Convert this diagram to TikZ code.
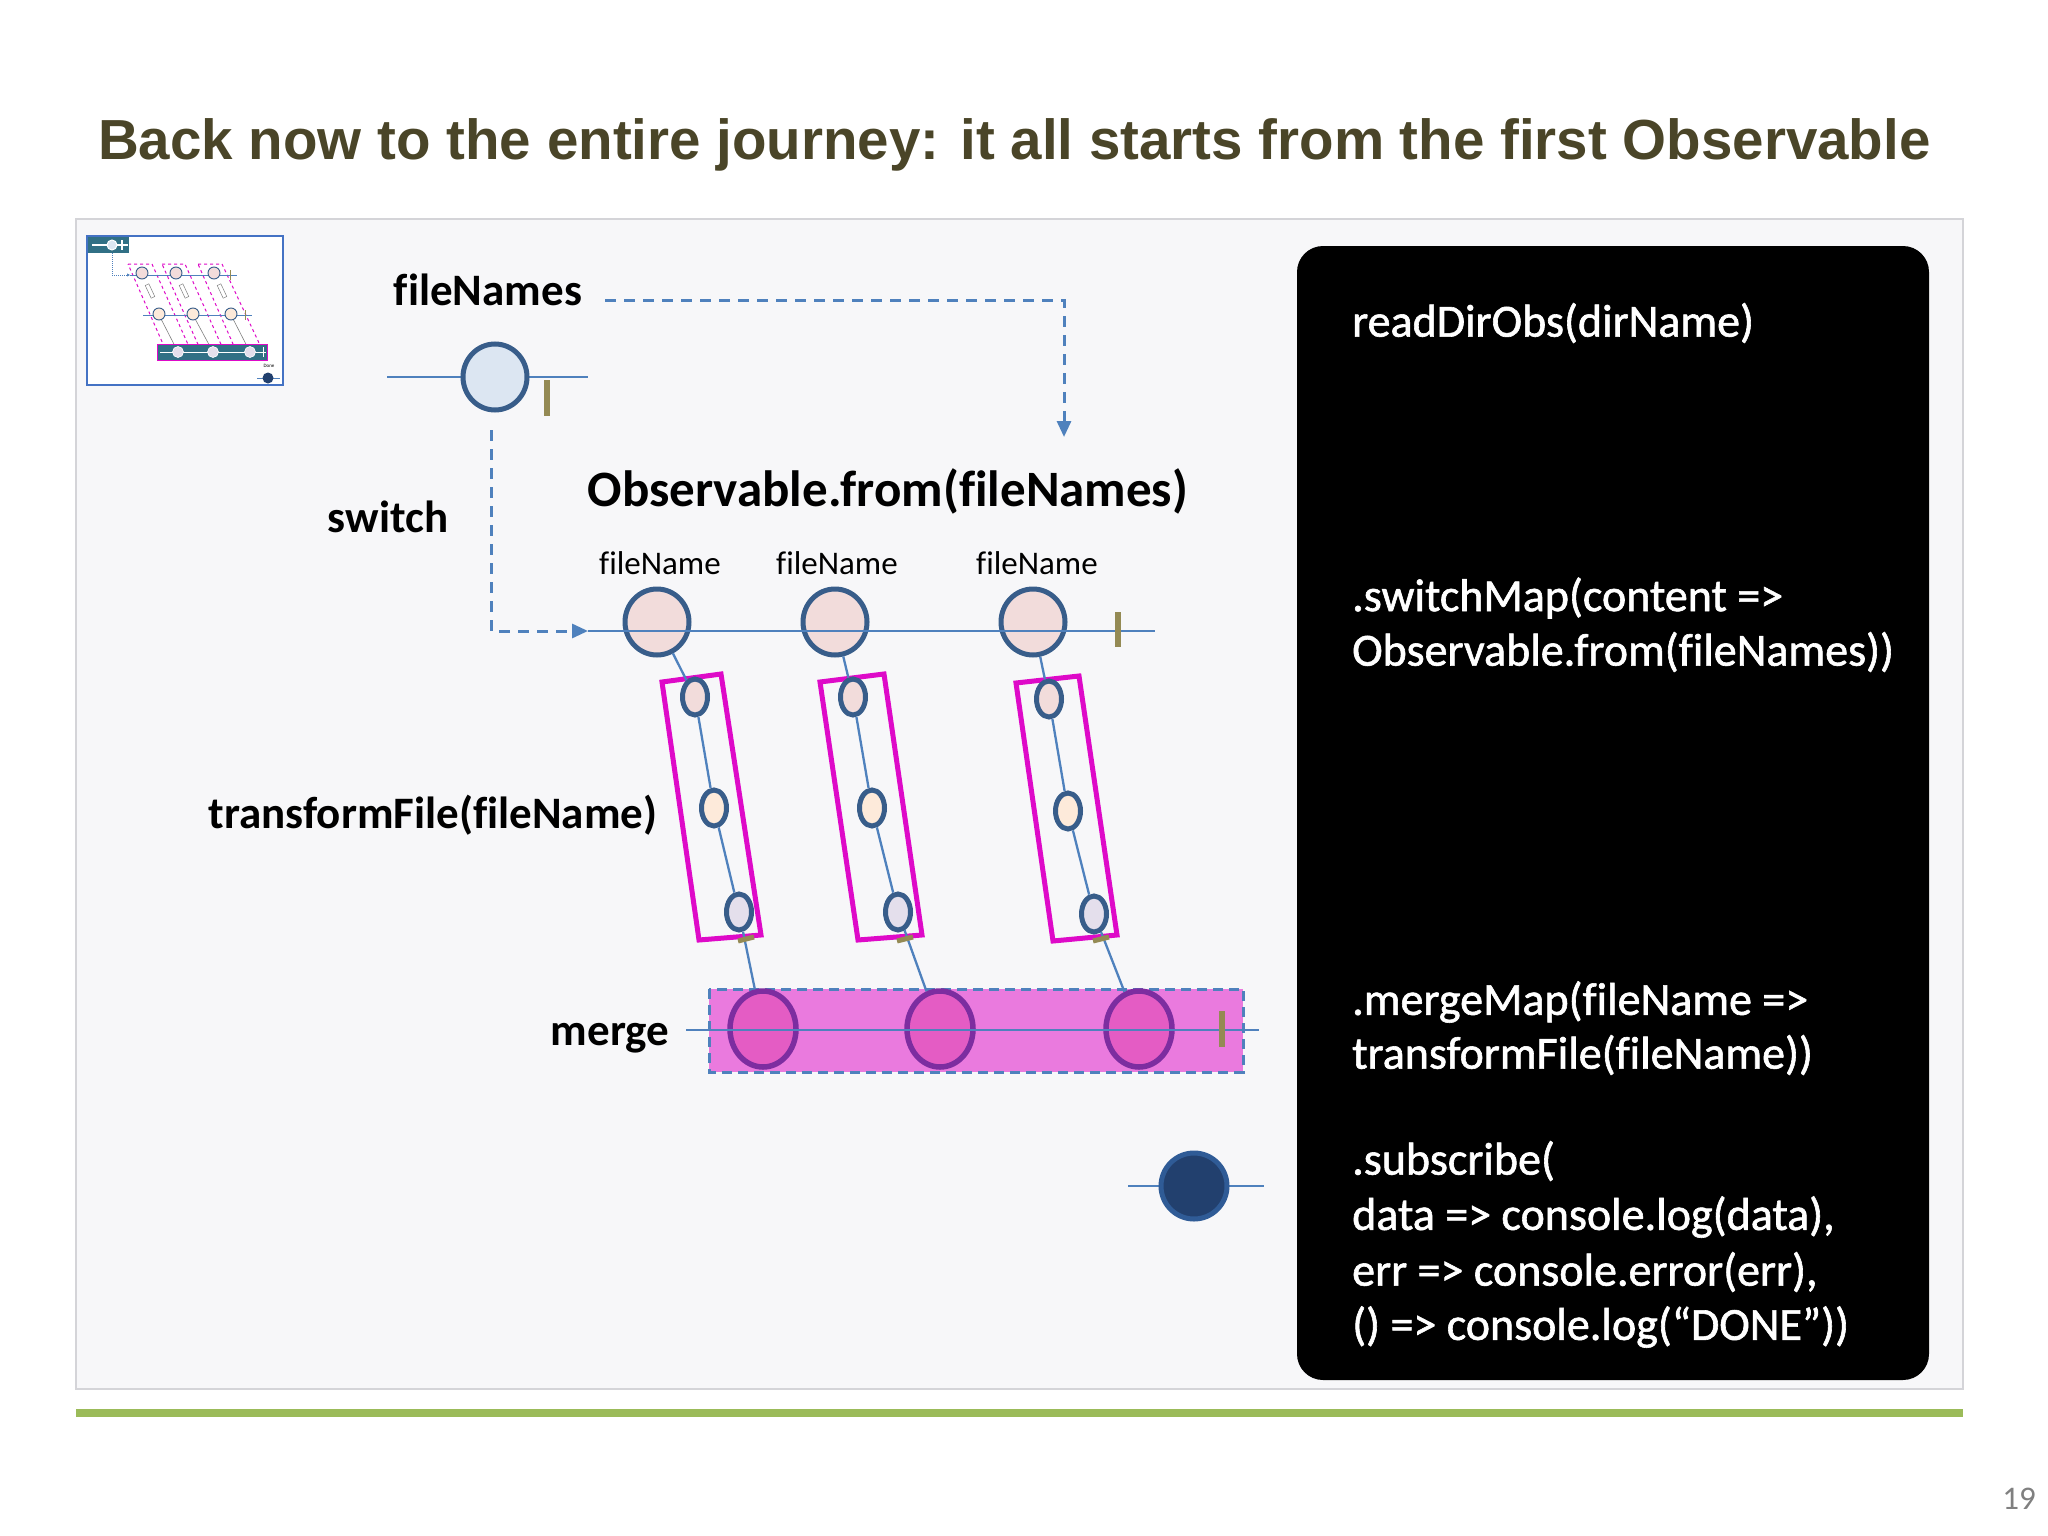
\documentclass[tikz,border=0pt]{standalone}
\usepackage{fontspec}
\setmainfont[Ligatures=NoCommon]{Carlito}
\newfontfamily\codefont[Ligatures=NoCommon,FakeBold=1.3]{Carlito}
\newfontfamily\titlefont{Liberation Sans}
\usetikzlibrary{shapes.geometric,arrows.meta}
\definecolor{titlecol}{RGB}{74,69,40}
\definecolor{panelbg}{RGB}{247,247,249}
\definecolor{panelborder}{RGB}{212,212,216}
\definecolor{greenbar}{RGB}{155,187,89}
\definecolor{blueline}{RGB}{79,129,189}
\definecolor{cborder}{RGB}{56,93,138}
\definecolor{pinkfill}{RGB}{242,220,219}
\definecolor{bluefill}{RGB}{220,230,242}
\definecolor{orangefill}{RGB}{253,234,218}
\definecolor{lavfill}{RGB}{228,223,236}
\definecolor{olive}{RGB}{148,138,84}
\definecolor{magenta2}{RGB}{222,10,200}
\definecolor{mergefill}{RGB}{234,122,222}
\definecolor{mcfill}{RGB}{228,92,196}
\definecolor{mcborder}{RGB}{125,45,160}
\definecolor{donefill}{RGB}{34,64,110}
\definecolor{doneborder}{RGB}{47,91,150}
\definecolor{teal2}{RGB}{49,112,133}
\definecolor{thumbblue}{RGB}{68,114,196}
\definecolor{pagegray}{RGB}{128,128,128}
\tikzset{
  lbl/.style={font=\bfseries\fontsize{45}{54}\selectfont, inner sep=0pt},
  small/.style={font=\fontsize{33}{40}\selectfont, inner sep=0pt},
  code/.style={font=\codefont\fontsize{46}{55}\selectfont, text=white, inner sep=0pt, anchor=west},
  timeline/.style={draw=blueline, line width=2pt},
  dashlink/.style={draw=blueline, line width=3pt, dash pattern=on 11pt off 8pt, -{Triangle[length=16pt,width=14pt]}},
  bigc/.style={ellipse, draw=cborder, line width=5pt, minimum width=64pt, minimum height=66pt, inner sep=0pt},
  smallc/.style={ellipse, draw=cborder, line width=5pt, minimum width=25pt, minimum height=36pt, inner sep=0pt},
  mergec/.style={ellipse, draw=mcborder, fill=mcfill, line width=5.5pt, minimum width=66pt, minimum height=76pt, inner sep=0pt},
  endtick/.style={draw=olive, line width=6pt},
  slanttick/.style={draw=olive, line width=5pt},
  tbox/.style={draw=magenta2, line width=5pt, line join=miter},
  thin/.style={draw=blueline, line width=2.3pt},
}
\begin{document}
\begin{tikzpicture}[x=1pt,y=-1pt]
\useasboundingbox (0,0) rectangle (2048,1536);
\fill[white] (0,0) rectangle (2048,1536);
% panel
\filldraw[fill=panelbg, draw=panelborder, line width=2pt] (76,219) rectangle (1963,1389);
\fill[greenbar] (76,1409) rectangle (1963,1417);
% title
\node[anchor=west, inner sep=0pt, text=titlecol, font=\titlefont\bfseries\fontsize{56.5}{66}\selectfont] (title) at (98,145) {Back now to the entire journey: it all starts from the first Observable};
\node[inner sep=0pt, text=pagegray, font=\fontsize{33}{40}\selectfont] (pnum) at (2019,1499) {19};

% code box
\fill[black, rounded corners=26pt] (1297,246) rectangle (1929,1380);
\node[code] (c1) at (1352,323) {readDirObs(dirName)};
\node[code] (c2) at (1352,598) {.switchMap(content =>};
\node[code] (c3) at (1352,652) {Observable.from(fileNames))};
\node[code] (c4) at (1352,1002) {.mergeMap(fileName =>};
\node[code] (c5) at (1352,1055) {transformFile(fileName))};
\node[code] (c6) at (1352,1161) {.subscribe(};
\node[code] (c7) at (1352,1217) {data => console.log(data),};
\node[code] (c8) at (1352,1272) {err => console.error(err),};
\node[code] (c9) at (1352,1327) {() => console.log(“DONE”))};

% thumbnail
\filldraw[fill=white, draw=thumbblue, line width=2pt] (87,236) rectangle (283,385);
\fill[teal2] (88,237) rectangle (129,253);
\draw[white, line width=1.2pt] (92,245) -- (128,245);
\draw[white, line width=1.2pt] (122,240) -- (122,250);
\filldraw[fill=bluefill, draw=white, line width=1pt] (112,245) circle (5);
\draw[blueline, line width=1pt, densely dotted, -{Triangle[length=3pt,width=3pt]}] (112,253) -- (112,275) -- (130,275);
\foreach \a/\b/\c/\d in {128/152/170/195, 162/185/205/228, 198/222/240/267}{
  \draw[magenta2, line width=1pt, dashed] (\a,264) -- (\b,264) -- (\d,360) -- (\c,360) -- cycle;
}
\draw[blueline, line width=0.8pt] (130,275) -- (237,275);
\draw[olive, line width=1pt] (230,270) -- (230,280);
\draw[blueline, line width=0.8pt] (143,315) -- (252,315);
\draw[olive, line width=1pt] (245,310) -- (245,320);
\foreach \x/\y in {159/178, 193/213, 231/250}{
  \draw[gray, line width=0.6pt] (\x,315) -- (\y,352);
}
\foreach \x in {142,176,214}{
  \filldraw[fill=pinkfill, draw=cborder, line width=0.9pt] (\x,273) circle (6);
  \filldraw[fill=white, draw=gray, line width=0.5pt, rotate around={-65:(\x+8,291)}] (\x+1,289) rectangle (\x+15,293);
}
\foreach \x in {159,193,231}{
  \filldraw[fill=orangefill, draw=cborder, line width=0.9pt] (\x,314) circle (6);
}
\filldraw[fill=teal2, draw=magenta2, line width=0.6pt] (157,344) rectangle (267,360);
\draw[white, line width=1pt] (160,352) -- (266,352);
\draw[white, line width=1pt] (263,347) -- (263,357);
\foreach \x in {178,213,250}{
  \filldraw[fill=lavfill, draw=white, line width=0.6pt] (\x,352) circle (5.5);
}
\node[inner sep=0pt, font=\fontsize{5}{6}\selectfont] (donelbl) at (269,366) {Done};
\draw[blueline, line width=0.8pt] (257,378) -- (280,378);
\fill[donefill] (268,378) circle (5.5);

% labels
\node[lbl] (lfn) at (488,290) {fileNames};
\node[lbl] (lsw) at (388,517) {switch};
\node[lbl, font=\bfseries\fontsize{51}{61}\selectfont] (lobs) at (888,491) {Observable.from(fileNames)};
\node[small] (n1) at (660,563) {fileName};
\node[small] (n2) at (837,563) {fileName};
\node[small] (n3) at (1037,563) {fileName};
\node[lbl] (ltr) at (433,815) {transformFile(fileName)};
\node[lbl] (lmg) at (610,1038) {merge};

% fileNames timeline
\coordinate (fa) at (387,377);
\coordinate (fb) at (588,377);
\draw[timeline] (fa) -- (fb);
\node[bigc, fill=bluefill] (f0) at (495,377) {};
\draw[endtick] (547,380) -- (547,416);

% dashed links
\coordinate (d1) at (605,300);
\coordinate (d2) at (1064,300);
\coordinate (d3) at (1064,437);
\draw[dashlink] (d1) -- (d2) -- (d3);
\coordinate (s1) at (491,430);
\coordinate (s2) at (491,631);
\coordinate (oa) at (588,631);
\draw[dashlink] (s1) -- (s2) -- (oa);

% observable timeline
\coordinate (ob) at (1155,631);
\node[bigc, fill=pinkfill] (o1) at (657,622) {};
\node[bigc, fill=pinkfill] (o2) at (835,622) {};
\node[bigc, fill=pinkfill] (o3) at (1033,622) {};
\draw[timeline] (oa) -- (ob);
\draw[endtick] (1118,612) -- (1118,647);

% transform boxes
\draw[tbox] (662,682) -- (721,674) -- (761,935) -- (699,940) -- cycle;
\draw[tbox] (820,682) -- (884,674) -- (922,935) -- (858,940) -- cycle;
\draw[tbox] (1016,683) -- (1079,676) -- (1117,935) -- (1053,941) -- cycle;

\node[smallc, fill=pinkfill] (a1) at (695,697) {};
\node[smallc, fill=orangefill] (a2) at (714,808) {};
\node[smallc, fill=lavfill] (a3) at (739,912) {};
\node[smallc, fill=pinkfill] (b1) at (853,697) {};
\node[smallc, fill=orangefill] (b2) at (872,808) {};
\node[smallc, fill=lavfill] (b3) at (898,912) {};
\node[smallc, fill=pinkfill] (e1) at (1049,699) {};
\node[smallc, fill=orangefill] (e2) at (1068,811) {};
\node[smallc, fill=lavfill] (e3) at (1094,914) {};

% merge
\filldraw[fill=mergefill, draw=blueline, line width=3pt, dash pattern=on 10pt off 6pt] (709,989) rectangle (1243,1072);
\node[mergec] (m1) at (763,1029) {};
\node[mergec] (m2) at (940,1029) {};
\node[mergec] (m3) at (1139,1029) {};
\coordinate (ma) at (686,1030);
\coordinate (mb) at (1259,1030);
\draw[timeline] (ma) -- (mb);
\draw[endtick] (1222,1011) -- (1222,1047);

% column connectors
\draw[thin] (o1) -- (a1) -- (a2) -- (a3) -- (m1);
\draw[thin] (o2) -- (b1) -- (b2) -- (b3) -- (m2);
\draw[thin] (o3) -- (e1) -- (e2) -- (e3) -- (m3);
\draw[slanttick] (738,941) -- (754,937);
\draw[slanttick] (897,941) -- (913,937);
\draw[slanttick] (1093,941) -- (1109,937);

% done
\coordinate (da) at (1128,1186);
\coordinate (db) at (1264,1186);
\draw[timeline] (da) -- (db);
\node[circle, fill=donefill, draw=doneborder, line width=5pt, minimum size=66pt, inner sep=0pt] (done) at (1194,1186) {};
\end{tikzpicture}
\end{document}
